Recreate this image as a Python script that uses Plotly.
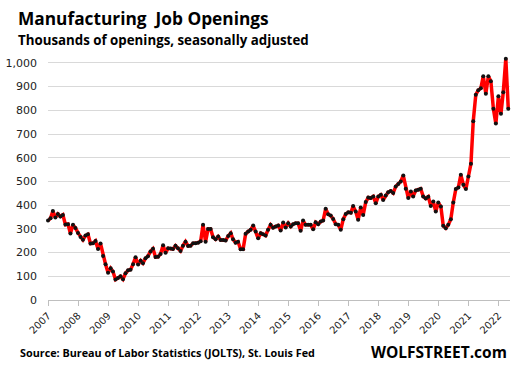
import pandas as pd
import plotly.graph_objects as go

# Manufacturing job openings, thousands, monthly from Jan 2007
y2007 = [335, 345, 375, 348, 363, 352, 359, 318, 320, 280, 317, 304]
y2008 = [283, 266, 254, 272, 277, 238, 239, 249, 215, 238, 186, 151]
y2009 = [115, 134, 120, 86, 93, 100, 88, 113, 125, 128, 151, 180]
y2010 = [150, 166, 155, 176, 185, 205, 216, 181, 182, 194, 231, 199]
y2011 = [218, 217, 215, 229, 218, 207, 229, 246, 228, 229, 239, 239]
y2012 = [242, 248, 317, 246, 300, 300, 265, 256, 268, 253, 253, 251]
y2013 = [270, 282, 256, 242, 246, 214, 214, 279, 289, 296, 314, 289]
y2014 = [260, 282, 277, 272, 296, 317, 305, 310, 314, 293, 327, 306]
y2015 = [324, 310, 320, 324, 324, 292, 335, 317, 317, 317, 298, 328]
y2016 = [320, 331, 335, 385, 362, 356, 342, 320, 317, 296, 341, 363]
y2017 = [370, 368, 396, 373, 338, 390, 359, 413, 432, 430, 437, 408]
y2018 = [437, 444, 422, 441, 455, 460, 451, 479, 489, 500, 525, 469]
y2019 = [430, 458, 437, 462, 465, 469, 437, 428, 436, 397, 415, 373]
y2020 = [411, 394, 313, 303, 317, 341, 411, 468, 475, 528, 486, 468]
y2021 = [521, 575, 754, 866, 885, 893, 944, 870, 944, 923, 807, 744]
y2022 = [859, 786, 876, 1018, 807]

start_month = "2007-01-01"
y_ticks = [0, 100, 200, 300, 400, 500, 600, 700, 800, 900, 1000]

openings = (y2007 + y2008 + y2009 + y2010 + y2011 + y2012 + y2013 + y2014
            + y2015 + y2016 + y2017 + y2018 + y2019 + y2020 + y2021 + y2022)
months = pd.date_range(start_month, periods=len(openings), freq="MS")

W, H = 517, 366
L, R, T, B = 48, 7, 57, 66


def px_x(px):
    return (px - L) / (W - L - R)


def px_y(py):
    return (H - B - py) / (H - T - B)


fig = go.Figure()
fig.add_trace(go.Scatter(
    x=months, y=openings, mode="lines+markers",
    line=dict(color="#ff0000", width=3.5),
    marker=dict(color="#111111", size=4),
    cliponaxis=False, hoverinfo="skip",
))

fig.update_layout(
    width=W, height=H,
    margin=dict(l=L, r=R, t=T, b=B, pad=0, autoexpand=False),
    paper_bgcolor="white", plot_bgcolor="white",
    showlegend=False,
    xaxis=dict(
        type="date",
        range=["2007-01-01", "2022-05-22"],
        tickmode="linear", tick0="2007-01-01", dtick="M12", tickformat="%Y",
        tickangle=-45, ticks="outside", ticklen=5, tickcolor="#bfbfbf",
        showgrid=False, showline=True, linecolor="#bfbfbf", linewidth=1,
        tickfont=dict(family="DejaVu Sans", size=10, color="#222222"),
        zeroline=False, automargin=False,
    ),
    yaxis=dict(
        range=[0, 1025], tickvals=y_ticks, tickformat=",",
        showgrid=True, gridcolor="#d9d9d9", gridwidth=1,
        zeroline=False, showline=False, ticks="",
        ticklabelstandoff=10, automargin=False,
        tickfont=dict(family="DejaVu Sans", size=11, color="#222222"),
    ),
    annotations=[
        dict(text="<b>Manufacturing  Job Openings</b>", xref="paper", yref="paper",
             x=px_x(16), y=px_y(5), xanchor="left", yanchor="top", showarrow=False,
             font=dict(family="Open Sans", size=17.3, color="#000000")),
        dict(text="<b>Thousands of openings, seasonally adjusted</b>", xref="paper", yref="paper",
             x=px_x(16), y=px_y(29), xanchor="left", yanchor="top", showarrow=False,
             font=dict(family="Open Sans", size=13.3, color="#000000")),
        dict(text="<b>Source: Bureau of Labor Statistics (JOLTS), St. Louis Fed</b>", xref="paper", yref="paper",
             x=px_x(18), y=px_y(352), xanchor="left", yanchor="middle", showarrow=False,
             font=dict(family="Open Sans", size=10.8, color="#000000")),
        dict(text="<b>WOLFSTREET.com</b>", xref="paper", yref="paper",
             x=px_x(509), y=px_y(352), xanchor="right", yanchor="middle", showarrow=False,
             font=dict(family="Open Sans", size=15.5, color="#000000")),
    ],
)

fig.write_html("out.html", config={"displayModeBar": False},
               post_script="document.body.style.margin='0';")
